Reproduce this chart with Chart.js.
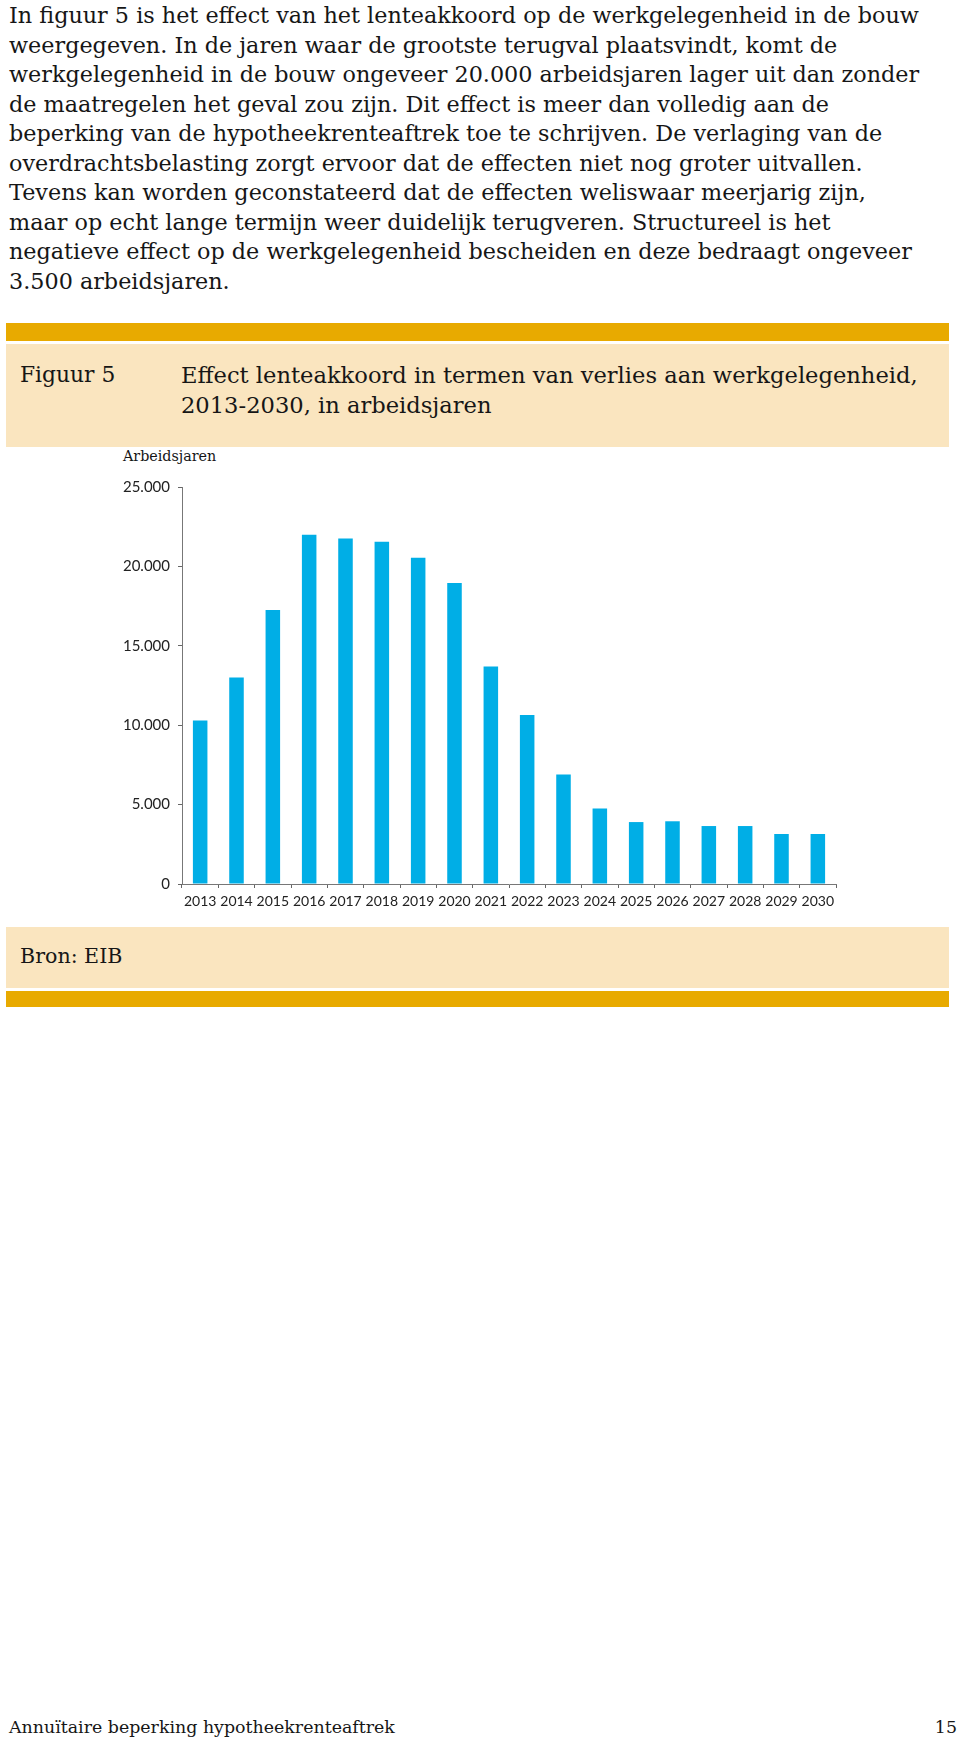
<!DOCTYPE html>
<html>
<head>
<meta charset="utf-8">
<script src="https://cdn.jsdelivr.net/npm/chart.js@4/dist/chart.umd.min.js"></script>
<style>
  body { margin: 0; background: #fff; width: 960px; height: 1740px; position: relative; color: #161616; }
  .serif { font-family: "DejaVu Serif", serif; }
  #intro { position: absolute; left: 9px; top: 1px; font-size: 22.3px; line-height: 29.5px; }
  #intro div { white-space: nowrap; }
  .goldbar { position: absolute; left: 6px; width: 943px; background: #e8aa00; }
  .beige { position: absolute; left: 6px; width: 943px; background: #fae5bf; }
  #figlabel { position: absolute; left: 20px; top: 360px; font-size: 21.8px; line-height: 30px; }
  #figtitle { position: absolute; left: 181px; top: 360px; font-size: 22.6px; line-height: 30px; white-space: nowrap; }
  #ylabel { position: absolute; left: 123px; top: 448px; font-size: 14.3px; }
  #chartbox { position: absolute; left: 100px; top: 470px; }
  #bron { position: absolute; left: 20px; top: 944px; font-size: 20.6px; }
  #footer { position: absolute; left: 9px; top: 1717px; font-size: 17.4px; }
  #pagenr { position: absolute; right: 3px; top: 1717px; font-size: 17.4px; }
</style>
</head>
<body>

<div id="intro" class="serif">
  <div>In figuur 5 is het effect van het lenteakkoord op de werkgelegenheid in de bouw</div>
  <div>weergegeven. In de jaren waar de grootste terugval plaatsvindt, komt de</div>
  <div>werkgelegenheid in de bouw ongeveer 20.000 arbeidsjaren lager uit dan zonder</div>
  <div>de maatregelen het geval zou zijn. Dit effect is meer dan volledig aan de</div>
  <div>beperking van de hypotheekrenteaftrek toe te schrijven. De verlaging van de</div>
  <div>overdrachtsbelasting zorgt ervoor dat de effecten niet nog groter uitvallen.</div>
  <div>Tevens kan worden geconstateerd dat de effecten weliswaar meerjarig zijn,</div>
  <div>maar op echt lange termijn weer duidelijk terugveren. Structureel is het</div>
  <div>negatieve effect op de werkgelegenheid bescheiden en deze bedraagt ongeveer</div>
  <div>3.500 arbeidsjaren.</div>
</div>

<div class="goldbar" style="top:323px;height:18px;"></div>
<div class="beige" style="top:344px;height:103px;"></div>
<div id="figlabel" class="serif">Figuur 5</div>
<div id="figtitle" class="serif">Effect lenteakkoord in termen van verlies aan werkgelegenheid,<br>2013-2030, in arbeidsjaren</div>

<div id="ylabel" class="serif">Arbeidsjaren</div>
<div id="chartbox"><canvas id="jobsChart" width="760" height="455"></canvas></div>

<div class="beige" style="top:927px;height:61px;"></div>
<div class="goldbar" style="top:991px;height:16px;"></div>
<div id="bron" class="serif">Bron: EIB</div>

<div id="footer" class="serif">Annuïtaire beperking hypotheekrenteaftrek</div>
<div id="pagenr" class="serif">15</div>

<script>
// DATA

const years = [
    "2013", "2014", "2015", "2016", "2017", "2018", "2019", "2020", "2021",
    "2022", "2023", "2024", "2025", "2026", "2027", "2028", "2029", "2030"
];

const jobLoss = [
    10300, 13000, 17250, 22000, 21750, 21550, 20550, 18950, 13700,
    10650, 6900, 4750, 3900, 3950, 3650, 3650, 3150, 3150
];

const yTicks = [0, 5000, 10000, 15000, 20000, 25000];


// DUTCH NUMBER FORMAT (25.000)

function dotThousands(v) {
    return String(v).replace(/\B(?=(\d{3})+(?!\d))/g, ".");
}


// GRAPH

const ctx = document.getElementById("jobsChart");

new Chart(ctx, {

    type: "bar",

    data: {
        labels: years,
        datasets: [{
            label: "Arbeidsjaren",
            data: jobLoss,
            backgroundColor: "#00aee6",
            borderWidth: 0,
            categoryPercentage: 1,
            barPercentage: 0.4
        }]
    },

    options: {
        responsive: false,
        animation: false,
        devicePixelRatio: 1,
        layout: {
            padding: { top: 17, right: 24, bottom: 0, left: 0 }
        },
        plugins: {
            legend: { display: false },
            tooltip: { enabled: false }
        },
        scales: {
            x: {
                grid: {
                    offset: true,
                    drawOnChartArea: false,
                    drawTicks: true,
                    tickLength: 4,
                    color: "#666"
                },
                border: { color: "#777", width: 1 },
                ticks: {
                    color: "#222",
                    padding: 5,
                    maxRotation: 0,
                    autoSkip: false,
                    font: { family: "Lato", size: 14 }
                },
                afterFit: function (scale) { scale.height = 41; }
            },
            y: {
                min: 0,
                max: 25000,
                afterBuildTicks: function (scale) {
                    scale.ticks = yTicks.map(v => ({ value: v }));
                },
                grid: {
                    drawOnChartArea: false,
                    drawTicks: true,
                    tickLength: 4,
                    color: "#666"
                },
                border: { color: "#777", width: 1 },
                ticks: {
                    color: "#222",
                    padding: 8,
                    font: { family: "Lato", size: 15 },
                    callback: function (value) { return dotThousands(value); }
                },
                afterFit: function (scale) { scale.width = 82; }
            }
        }
    }
});
</script>
</body>
</html>
